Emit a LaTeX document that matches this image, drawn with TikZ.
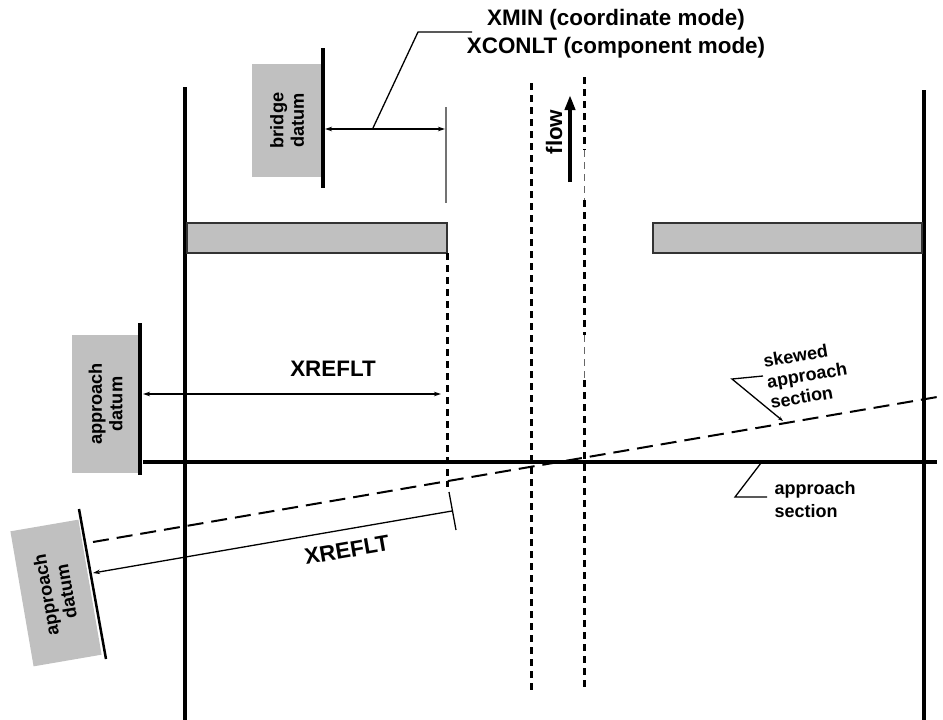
\documentclass[tikz,border=0pt]{standalone}
\usepackage{fontspec}
\setmainfont{Liberation Sans}
\usetikzlibrary{arrows.meta}
\definecolor{boxgray}{HTML}{C0C0C0}
\newcommand\lblbig{\fontsize{22.4}{28}\selectfont\bfseries}
\newcommand\lblbox{\fontsize{18.2}{20.5}\selectfont\bfseries}
\newcommand\lblmid{\fontsize{18}{21}\selectfont\bfseries}
\newcommand\lbllow{\fontsize{18}{23}\selectfont\bfseries}
\begin{document}
\begin{tikzpicture}[x=1pt,y=-1pt,
  thickline/.style={line width=4.5pt},
  datumline/.style={line width=3.5pt},
  dimline/.style={line width=1.3pt},
  tipS/.tip={Stealth[length=7pt,width=4.5pt]},
  dimarrow/.style={dimline,tipS-tipS},
  graybox/.style={fill=boxgray, inner sep=0pt, align=center, font=\lblbox},
  bar/.style={fill=boxgray, draw=black!80, line width=1.5pt},
  dashv/.style={line width=3pt, dash pattern=on 7pt off 5pt},
  dashfaint/.style={line width=1pt, draw=black!60, dash pattern=on 7pt off 5pt},
  skewline/.style={line width=2pt, dash pattern=on 16pt off 8pt},
  leader/.style={line width=1.3pt}]
\useasboundingbox (0,0) rectangle (943,720);

% main banks
\coordinate (lt) at (185,87);  \coordinate (lb) at (185,720);
\coordinate (rt) at (924,90);  \coordinate (rb) at (924,720);
\draw[thickline] (lt) -- (lb);
\draw[thickline] (rt) -- (rb);

% bridge bars
\draw[bar] (187,223) rectangle (447,253);
\draw[bar] (653,223) rectangle (922,253);

% bridge datum
\node[graybox, rotate=90, minimum width=113pt, minimum height=70pt] (bdbox) at (287,120.5) {bridge\\datum};
\coordinate (bdt) at (323,48); \coordinate (bdb) at (323,188);
\draw[thickline, line width=4pt] (bdt) -- (bdb);
\coordinate (gt) at (446,107); \coordinate (gb) at (446,203);
\draw[line width=1.3pt, black!55] (gt) -- (gb);
\coordinate (d1a) at (325,129); \coordinate (d1b) at (445,129);
\draw[dimarrow] (d1a) -- (d1b);
\node[font=\lblbig, align=center] (xmin) at (616,34) {XMIN (coordinate mode)\\XCONLT (component mode)};
\coordinate (l1a) at (373,128); \coordinate (l1b) at (418,32); \coordinate (l1c) at (472,32);
\draw[leader] (l1a) -- (l1b) -- (l1c);

% dashed verticals
\coordinate (v1t) at (447,253); \coordinate (v1b) at (447,487);
\draw[dashv] (v1t) -- (v1b);
\coordinate (v2t) at (531,83); \coordinate (v2b) at (531,690);
\draw[dashv] (v2t) -- (v2b);
\coordinate (v3t) at (584,77); \coordinate (v3a) at (584,150);
\coordinate (v3b) at (584,200); \coordinate (v3c) at (584,335);
\coordinate (v3d) at (584,380); \coordinate (v3e) at (584,690);
\draw[dashv] (v3t) -- (v3a);
\draw[dashfaint] (v3a) -- (v3b);
\draw[dashv] (v3b) -- (v3c);
\draw[dashfaint] (v3c) -- (v3d);
\draw[dashv] (v3d) -- (v3e);

% flow
\coordinate (ft) at (570,95); \coordinate (fb) at (570,182);
\draw[line width=4pt, -{Triangle[length=15pt,width=10pt]}] (fb) -- (ft);
\node[font=\lblbig, rotate=90] (flow) at (554,132) {flow};

% approach datum (upper)
\node[graybox, rotate=90, minimum width=138pt, minimum height=67pt] (adbox) at (105.5,404) {approach\\datum};
\coordinate (adt) at (140,323); \coordinate (adb) at (140,475);
\draw[datumline] (adt) -- (adb);
\coordinate (d2a) at (143,394); \coordinate (d2b) at (441,394);
\draw[dimarrow] (d2a) -- (d2b);
\node[font=\lblbig] (xr1) at (333,369) {XREFLT};

% approach section
\coordinate (asl) at (143,462); \coordinate (asr) at (937,462);
\draw[datumline] (asl) -- (asr);

% skewed approach section
\coordinate (skl) at (93,542); \coordinate (skr) at (943,396);
\draw[skewline] (skl) -- (skr);

% skewed approach datum
\node[graybox, rotate=99.75, minimum width=137pt, minimum height=69pt] (sdbox) at (56,593) {approach\\datum};
\coordinate (sdt) at (79,509); \coordinate (sdb) at (106,659);
\draw[line width=2.5pt] (sdt) -- (sdb);
\coordinate (d3a) at (93,573); \coordinate (d3b) at (452,511);
\draw[dimline, tipS-] (d3a) -- (d3b);
\coordinate (tk1) at (449,492); \coordinate (tk2) at (456,530);
\draw[dimline] (tk1) -- (tk2);
\node[font=\lblbig, rotate=9.75] (xr2) at (347,550) {XREFLT};

% labels on the right
\node[font=\lblmid, align=left, rotate=9.75] (sktxt) at (807,375) {skewed\\approach\\section};
\coordinate (l2a) at (763,376); \coordinate (l2b) at (732,379); \coordinate (l2c) at (783,421);
\draw[leader, -{Stealth[length=5pt,width=3.5pt]}] (l2a) -- (l2b) -- (l2c);

\node[font=\lbllow, align=left, anchor=west] (astxt) at (771,500) {approach\\section};
\coordinate (l3a) at (761,463); \coordinate (l3b) at (735,497); \coordinate (l3c) at (767,497);
\draw[leader] (l3a) -- (l3b) -- (l3c);
\end{tikzpicture}
\end{document}
